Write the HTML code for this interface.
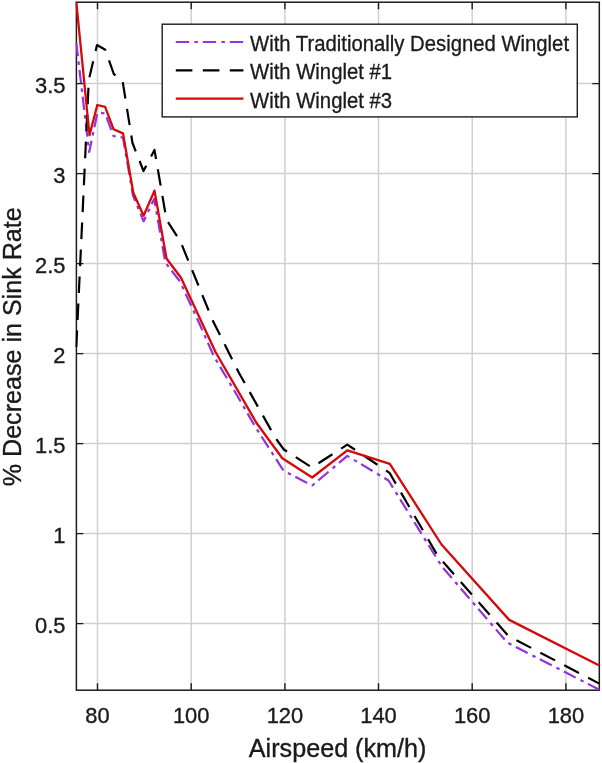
<!DOCTYPE html>
<html><head><meta charset="utf-8"><style>
html,body{margin:0;padding:0;background:#fff;}
body{width:602px;height:763px;overflow:hidden;}
svg{display:block;}
text{font-family:"Liberation Sans",Arial,Helvetica,sans-serif;fill:#1a1a1a;}
</style></head><body>
<svg width="602" height="763" viewBox="0 0 602 763">
<rect x="0" y="0" width="602" height="763" fill="#fff"/>

<path d="M97.5 2.2V690.2M191.2 2.2V690.2M284.9 2.2V690.2M378.5 2.2V690.2M472.2 2.2V690.2M565.9 2.2V690.2M76.4 623.6H599.3M76.4 533.6H599.3M76.4 443.6H599.3M76.4 353.6H599.3M76.4 263.6H599.3M76.4 173.6H599.3M76.4 83.6H599.3" stroke="#d0d0d0" stroke-width="1.5" fill="none"/>
<path d="M97.5 690.2V683.2M97.5 2.2V9.2M191.2 690.2V683.2M191.2 2.2V9.2M284.9 690.2V683.2M284.9 2.2V9.2M378.5 690.2V683.2M378.5 2.2V9.2M472.2 690.2V683.2M472.2 2.2V9.2M565.9 690.2V683.2M565.9 2.2V9.2M76.4 623.6H83.4M599.3 623.6H592.3M76.4 533.6H83.4M599.3 533.6H592.3M76.4 443.6H83.4M599.3 443.6H592.3M76.4 353.6H83.4M599.3 353.6H592.3M76.4 263.6H83.4M599.3 263.6H592.3M76.4 173.6H83.4M599.3 173.6H592.3M76.4 83.6H83.4M599.3 83.6H592.3" stroke="#1c1c1c" stroke-width="1.4" fill="none"/>
<rect x="76.4" y="2.2" width="522.9" height="688.0" stroke="#1c1c1c" stroke-width="1.5" fill="none"/>
<clipPath id="c"><rect x="75.4" y="1.2" width="524.9" height="690.0"/></clipPath>
<g clip-path="url(#c)" fill="none" stroke-width="2.2" stroke-linejoin="round">
<polyline points="76.3,43.0 89.2,152.0 97.5,112.5 105.2,113.5 113.5,136.0 123.0,137.5 133.0,195.5 143.6,221.3 154.2,198.9 165.3,262.5 180.0,281.5 198.0,320.5 214.0,356.5 234.5,391.0 256.0,428.0 283.6,470.8 312.2,485.5 347.3,455.9 388.5,480.5 441.5,566.0 507.2,642.5 599.3,689.7" stroke="#9431e0" stroke-dasharray="13.3 5.3 3.5 4.9"/>
<polyline points="76.3,347.0 88.8,80.0 97.0,45.0 105.3,49.8 113.8,74.0 122.5,80.5 132.5,143.0 143.5,171.0 154.5,150.0 166.5,219.7 180.5,241.6 212.5,320.0 239.0,373.0 275.5,438.0 283.8,449.5 312.0,467.5 347.3,444.6 389.5,472.8 437.5,555.5 508.5,636.0 599.3,683.6" stroke="#000000" stroke-dasharray="16.6 10.4"/>
<polyline points="76.3,2.0 89.5,135.2 97.3,105.0 105.1,106.8 113.5,129.2 123.0,133.4 133.3,192.7 143.6,215.8 154.5,190.6 166.5,258.5 181.0,277.7 215.5,352.0 256.2,422.5 282.3,458.2 312.2,477.5 347.3,450.3 389.8,463.9 441.5,544.5 509.2,619.9 599.3,665.5" stroke="#d60808" stroke-width="2.3"/>
</g>
<text transform="translate(97.5 722.9) scale(1 1.04)" font-size="21.9" stroke="#1a1a1a" stroke-width="0.35" text-anchor="middle">80</text>
<text transform="translate(191.2 722.9) scale(1 1.04)" font-size="21.9" stroke="#1a1a1a" stroke-width="0.35" text-anchor="middle">100</text>
<text transform="translate(284.9 722.9) scale(1 1.04)" font-size="21.9" stroke="#1a1a1a" stroke-width="0.35" text-anchor="middle">120</text>
<text transform="translate(378.5 722.9) scale(1 1.04)" font-size="21.9" stroke="#1a1a1a" stroke-width="0.35" text-anchor="middle">140</text>
<text transform="translate(472.2 722.9) scale(1 1.04)" font-size="21.9" stroke="#1a1a1a" stroke-width="0.35" text-anchor="middle">160</text>
<text transform="translate(565.9 722.9) scale(1 1.04)" font-size="21.9" stroke="#1a1a1a" stroke-width="0.35" text-anchor="middle">180</text>
<text transform="translate(65.4 632.8) scale(1 1.04)" font-size="21.9" stroke="#1a1a1a" stroke-width="0.35" text-anchor="end">0.5</text>
<text transform="translate(65.4 542.8) scale(1 1.04)" font-size="21.9" stroke="#1a1a1a" stroke-width="0.35" text-anchor="end">1</text>
<text transform="translate(65.4 452.8) scale(1 1.04)" font-size="21.9" stroke="#1a1a1a" stroke-width="0.35" text-anchor="end">1.5</text>
<text transform="translate(65.4 362.8) scale(1 1.04)" font-size="21.9" stroke="#1a1a1a" stroke-width="0.35" text-anchor="end">2</text>
<text transform="translate(65.4 272.8) scale(1 1.04)" font-size="21.9" stroke="#1a1a1a" stroke-width="0.35" text-anchor="end">2.5</text>
<text transform="translate(65.4 182.8) scale(1 1.04)" font-size="21.9" stroke="#1a1a1a" stroke-width="0.35" text-anchor="end">3</text>
<text transform="translate(65.4 92.8) scale(1 1.04)" font-size="21.9" stroke="#1a1a1a" stroke-width="0.35" text-anchor="end">3.5</text>
<text transform="translate(337.6 757.0) scale(1.04 1.056)" font-size="24.2" stroke="#1a1a1a" stroke-width="0.35" text-anchor="middle">Airspeed (km/h)</text>
<text transform="translate(21.2 346.8) rotate(-90)" font-size="25.1" stroke="#1a1a1a" stroke-width="0.35" text-anchor="middle">% Decrease in Sink Rate</text>
<rect x="162.2" y="24.2" width="415.1" height="92.7" fill="#fff" stroke="#1c1c1c" stroke-width="1.4"/>
<line x1="175.8" y1="42" x2="243.4" y2="42" stroke="#9431e0" stroke-width="2.2" stroke-dasharray="13.3 5.3 3.5 4.9"/>
<line x1="175.8" y1="70.4" x2="243.4" y2="70.4" stroke="#000000" stroke-width="2.2" stroke-dasharray="16.6 10.4"/>
<line x1="175.8" y1="98.7" x2="243.4" y2="98.7" stroke="#d60808" stroke-width="2.2"/>
<text transform="translate(250.0 50.9) scale(1 1.05)" font-size="20.3" stroke="#1a1a1a" stroke-width="0.3">With Traditionally Designed Winglet</text>
<text transform="translate(250.0 79.3) scale(1 1.05)" font-size="20.3" stroke="#1a1a1a" stroke-width="0.3">With Winglet #1</text>
<text transform="translate(250.0 107.6) scale(1 1.05)" font-size="20.3" stroke="#1a1a1a" stroke-width="0.3">With Winglet #3</text>
</svg></body></html>
